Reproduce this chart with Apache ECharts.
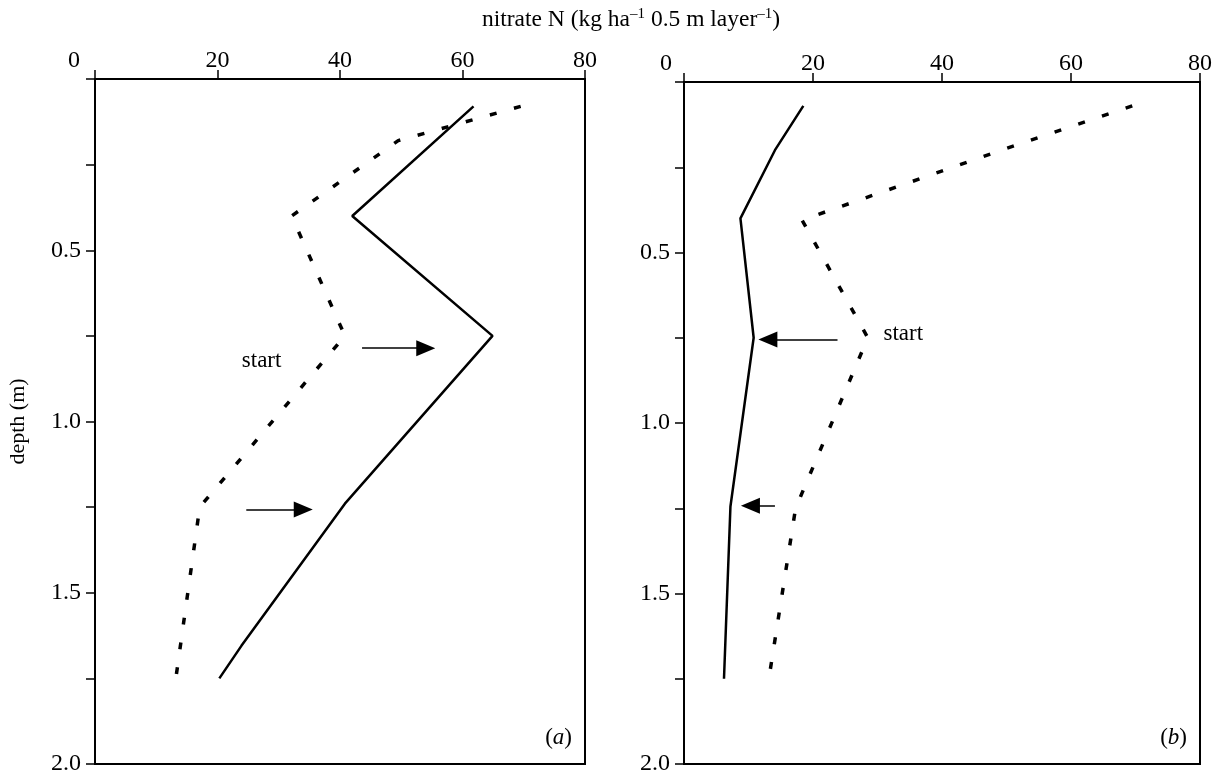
<!DOCTYPE html>
<html>
<head>
<meta charset="utf-8">
<script src="https://cdn.jsdelivr.net/npm/echarts@6/dist/echarts.min.js"></script>
<style>
  html, body { margin: 0; padding: 0; background: #fff; }
  #chart { width: 1217px; height: 776px; }
</style>
</head>
<body>
<div id="chart"></div>
<script>
// ---- data ----
const xTicks = [0, 20, 40, 60, 80];
const yTickLabels = ['0.5', '1.0', '1.5', '2.0'];

// panel (a)
const depthA_solid   = [0.08, 0.40, 0.75, 1.24, 1.655, 1.75];
const nitrateA_solid = [61.8, 42.0, 64.9, 40.8, 23.9, 20.3];
const depthA_dash    = [0.08, 0.18, 0.40, 0.75, 1.25, 1.75];
const nitrateA_dash  = [69.5, 49.5, 32.1, 40.8, 17.1, 13.2];
// panel (b)
const depthB_solid   = [0.07, 0.20, 0.40, 0.75, 1.245, 1.75];
const nitrateB_solid = [18.5, 14.1, 8.75, 10.8, 7.2, 6.2];
const depthB_dash    = [0.07, 0.196, 0.405, 0.75, 1.25, 1.745];
const nitrateB_dash  = [69.5, 49.8, 18.3, 28.5, 17.3, 13.2];

// arrows: [fromX, fromDepth, toX, toDepth]
const arrowsA = [[43.6, 0.786, 54.0, 0.786], [24.7, 1.257, 34.0, 1.257]];
const arrowsB = [[23.8, 0.755, 13.0, 0.755], [14.1, 1.243, 10.3, 1.243]];
// "start" labels [x, depth]
const startA = [27.2, 0.824];
const startB = [34.0, 0.74];

const FONT = "'Liberation Serif', 'Times New Roman', serif";
const zip = (xs, ys) => xs.map((x, i) => [x, ys[i]]);

function xAxisCfg(gi, zeroPad) {
  return {
    gridIndex: gi, type: 'value', position: 'top',
    min: 0, max: 80, interval: 20,
    axisLine: { show: true, lineStyle: { color: '#000', width: 2 } },
    axisTick: { show: true, inside: false, length: 9, lineStyle: { color: '#000', width: 1.5 } },
    axisLabel: {
      color: '#000', fontFamily: FONT, fontSize: 24, margin: 6,
      formatter: v => (v === 0 ? '{z|0}' : (xTicks.indexOf(v) >= 0 ? String(v) : '')),
      rich: { z: { fontFamily: FONT, fontSize: 24, color: '#000', padding: [0, zeroPad, 0, 0] } }
    },
    splitLine: { show: false }
  };
}
function yAxisCfg(gi, withName) {
  const cfg = {
    gridIndex: gi, type: 'value', inverse: true,
    min: 0, max: 2, interval: 0.25,
    axisLine: { show: true, lineStyle: { color: '#000', width: 2 } },
    axisTick: { show: true, inside: false, length: 9, lineStyle: { color: '#000', width: 1.5 } },
    axisLabel: {
      color: '#000', fontFamily: FONT, fontSize: 24, margin: 14,
      formatter: v => { const s = v.toFixed(1); return (v !== 0 && yTickLabels.indexOf(s) >= 0 && Math.abs(v * 2 - Math.round(v * 2)) < 1e-9) ? s : ''; }
    },
    splitLine: { show: false }
  };
  if (withName) {
    Object.assign(cfg, {
      name: 'depth (m)', nameLocation: 'middle', nameGap: 66, nameRotate: 90,
      nameTextStyle: { color: '#000', fontFamily: FONT, fontSize: 22 }
    });
  }
  return cfg;
}
function lineSeries(gi, xs, ys, dashed) {
  return {
    type: 'line', xAxisIndex: gi, yAxisIndex: gi, data: zip(xs, ys),
    symbol: 'none', silent: true,
    lineStyle: dashed ? { color: '#000', width: 3.5, type: [7, 18], cap: 'butt' }
                      : { color: '#000', width: 2.5 }
  };
}
function arrowSeries(gi, arr) {
  return {
    type: 'lines', coordinateSystem: 'cartesian2d', xAxisIndex: gi, yAxisIndex: gi,
    silent: true, symbol: ['none', 'triangle'], symbolSize: [[16, 19], [16, 19]],
    lineStyle: { color: '#000', width: 1.6, opacity: 1 },
    itemStyle: { color: '#000' },
    data: arr.map(a => ({ coords: [[a[0], a[1]], [a[2], a[3]]] }))
  };
}
function textSeries(gi, pt, txt) {
  return {
    type: 'scatter', xAxisIndex: gi, yAxisIndex: gi, data: [pt], silent: true,
    symbolSize: 1, itemStyle: { color: 'rgba(0,0,0,0)' },
    label: { show: true, position: 'inside', formatter: txt, color: '#000', opacity: 1,
             fontFamily: FONT, fontSize: 23 }
  };
}

const chart = echarts.init(document.getElementById('chart'), null, { renderer: 'canvas' });
chart.setOption({
  animation: false,
  backgroundColor: '#fff',
  grid: [
    { left: 95, top: 79, width: 490, height: 690, show: true, borderColor: '#000', borderWidth: 2, backgroundColor: 'transparent' },
    { left: 684, top: 82, width: 516, height: 686, show: true, borderColor: '#000', borderWidth: 2, backgroundColor: 'transparent' }
  ],
  xAxis: [xAxisCfg(0, 42), xAxisCfg(1, 36)],
  yAxis: [yAxisCfg(0, true), yAxisCfg(1, false)],
  series: [
    lineSeries(0, nitrateA_solid, depthA_solid, false),
    lineSeries(0, nitrateA_dash, depthA_dash, true),
    lineSeries(1, nitrateB_solid, depthB_solid, false),
    lineSeries(1, nitrateB_dash, depthB_dash, true),
    arrowSeries(0, arrowsA),
    arrowSeries(1, arrowsB),
    textSeries(0, startA, 'start'),
    textSeries(1, startB, 'start')
  ],
  graphic: [
    {
      type: 'text', x: 631, y: 20,
      style: {
        text: '{n|nitrate N (kg ha}{s|–1}{n| 0.5 m layer}{s|–1}{n|)}',
        align: 'center', verticalAlign: 'middle',
        rich: {
          n: { fontFamily: FONT, fontSize: 23.5, color: '#000', lineHeight: 26 },
          s: { fontFamily: FONT, fontSize: 15, color: '#000', verticalAlign: 'top', lineHeight: 15 }
        }
      }
    },
    {
      type: 'text', x: 572, y: 738,
      style: {
        text: '{n|(}{i|a}{n|)}', align: 'right', verticalAlign: 'middle',
        rich: {
          n: { fontFamily: FONT, fontSize: 23, color: '#000' },
          i: { fontFamily: FONT, fontSize: 23, color: '#000', fontStyle: 'italic' }
        }
      }
    },
    {
      type: 'text', x: 1187, y: 738,
      style: {
        text: '{n|(}{i|b}{n|)}', align: 'right', verticalAlign: 'middle',
        rich: {
          n: { fontFamily: FONT, fontSize: 23, color: '#000' },
          i: { fontFamily: FONT, fontSize: 23, color: '#000', fontStyle: 'italic' }
        }
      }
    }
  ]
});
</script>
</body>
</html>
